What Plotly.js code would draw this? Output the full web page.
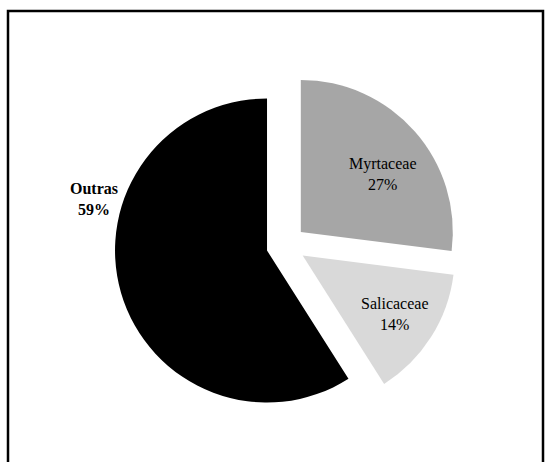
<!DOCTYPE html>
<html><head><meta charset="utf-8">
<script src="https://cdn.plot.ly/plotly-3.0.1.min.js"></script>
<style>html,body{margin:0;padding:0;background:#fff;overflow:hidden}</style>
</head><body><div id="chart" style="width:551px;height:462px"></div>
<script>
// data
const labels = ['Myrtaceae', 'Salicaceae', 'Outras'];
const values = [27, 14, 59];
const colors = ['#a6a6a6', '#d9d9d9', '#000000'];

// layout constants (px)
const W = 551, H = 462;
const center = [286, 245];
const radius = 152;
const pullFrac = 0.13;
const labelPx = [[383, 174], [395, 314], [94, 199]];
const labelBold = [false, false, true];

const half = radius * (1 + pullFrac);
const domX = [(center[0] - half) / W, (center[0] + half) / W];
const domY = [1 - (center[1] + half) / H, 1 - (center[1] - half) / H];

const trace = {
  type: 'pie',
  labels: labels,
  values: values,
  sort: false,
  direction: 'clockwise',
  rotation: 0,
  pull: labels.map(() => pullFrac),
  marker: {colors: colors, line: {width: 0}},
  textinfo: 'none',
  hoverinfo: 'none',
  showlegend: false,
  domain: {x: domX, y: domY}
};

const annotations = labels.map((lab, i) => {
  const txt = lab + '<br>' + values[i] + '%';
  return {
    xref: 'paper', yref: 'paper', x: labelPx[i][0] / W, y: 1 - labelPx[i][1] / H,
    text: labelBold[i] ? '<b>' + txt.replace('<br>', '</b><br><b>') + '</b>' : txt,
    showarrow: false, xanchor: 'center', yanchor: 'middle', align: 'center',
    font: {family: 'Liberation Serif, Times New Roman, serif', size: 16, color: '#000'}
  };
});

const layout = {
  width: W, height: H,
  margin: {l: 0, r: 0, t: 0, b: 0},
  paper_bgcolor: '#ffffff',
  annotations: annotations,
  shapes: [{
    type: 'rect', xref: 'paper', yref: 'paper',
    x0: 8 / W, x1: 543 / W, y0: -0.2, y1: 1 - 11 / H,
    line: {color: '#000', width: 2.5}, fillcolor: 'rgba(0,0,0,0)', layer: 'below'
  }]
};

Plotly.newPlot('chart', [trace], layout, {displayModeBar: false, staticPlot: true});
</script></body></html>
